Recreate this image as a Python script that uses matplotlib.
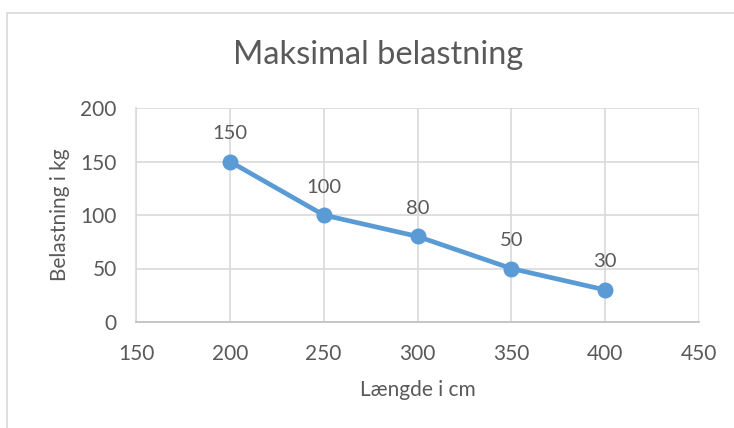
import matplotlib.pyplot as plt
from matplotlib.patches import Rectangle

# data
laengde = [200, 250, 300, 350, 400]
belastning = [150, 100, 80, 50, 30]
x_ticks = [150, 200, 250, 300, 350, 400, 450]
y_ticks = [0, 50, 100, 150, 200]

txt_color = '#595959'
grid_color = '#D9D9D9'
line_color = '#5B9BD5'

plt.rcParams['font.family'] = ['Lato', 'DejaVu Sans']

fig = plt.figure(figsize=(7.34, 4.28), dpi=100)

# chart frame (cut off at right and bottom)
fig.patches.append(Rectangle((7 / 734, -0.1), 1.0, 1 - 13 / 428 + 0.1,
                             transform=fig.transFigure, fill=False,
                             edgecolor=grid_color, linewidth=1.2))

ax = fig.add_axes([136 / 734, 1 - 322 / 428, 563 / 734, 214 / 428])

ax.plot(laengde, belastning, color=line_color, linewidth=3.4,
        marker='o', markersize=10.5, zorder=3)

# data labels above points
for xv, yv in zip(laengde, belastning):
    ax.annotate(str(yv), (xv, yv), xytext=(0, 14), textcoords='offset points',
                ha='center', va='bottom', fontsize=14.5, color=txt_color)

ax.set_xlim(150, 450)
ax.set_ylim(0, 200)
ax.set_xticks(x_ticks)
ax.set_yticks(y_ticks)
ax.grid(True, color=grid_color, linewidth=1.2)
ax.set_axisbelow(True)
ax.tick_params(length=0, labelsize=15, labelcolor=txt_color)
ax.tick_params(axis='y', pad=14)
ax.tick_params(axis='x', pad=16)

for side in ['top', 'right']:
    ax.spines[side].set_visible(False)
ax.spines['left'].set_color(grid_color)
ax.spines['bottom'].set_color('#BFBFBF')
ax.spines['left'].set_linewidth(1.2)
ax.spines['bottom'].set_linewidth(1.2)

ax.set_xlabel('Længde i cm', fontsize=15, color=txt_color, labelpad=11)
ax.set_ylabel('Belastning i kg', fontsize=15, color=txt_color, labelpad=7)

fig.text(378 / 734, 1 - 55 / 428, 'Maksimal belastning', ha='center',
         va='center', fontsize=23.5, color=txt_color)

fig.savefig('out.png', dpi=100)
